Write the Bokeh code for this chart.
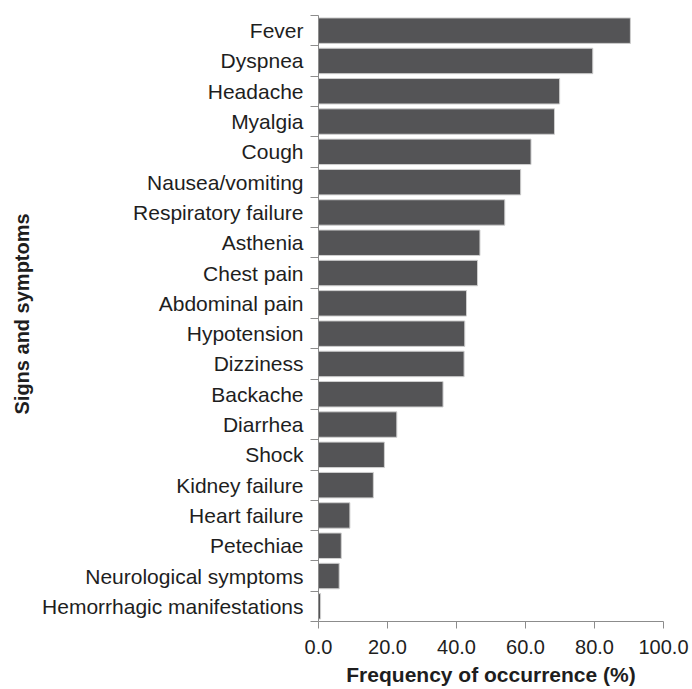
import math
from bokeh.plotting import figure
from bokeh.models import FixedTicker, PrintfTickFormatter, Title, ColumnDataSource, Range1d
from bokeh.embed import file_html
from bokeh.resources import INLINE

symptoms = ["Fever", "Dyspnea", "Headache", "Myalgia", "Cough", "Nausea/vomiting",
            "Respiratory failure", "Asthenia", "Chest pain", "Abdominal pain",
            "Hypotension", "Dizziness", "Backache", "Diarrhea", "Shock",
            "Kidney failure", "Heart failure", "Petechiae", "Neurological symptoms",
            "Hemorrhagic manifestations"]
frequency = [90.4, 79.5, 69.9, 68.4, 61.6, 58.6, 54.0, 46.8, 46.1, 42.9,
             42.4, 42.2, 36.1, 22.7, 19.1, 15.9, 9.1, 6.6, 6.0, 0.6]
x_ticks = [0, 20, 40, 60, 80, 100]
x_title = "Frequency of occurrence (%)"
y_title = "Signs and symptoms"

n = len(symptoms)
ypos = [n - i - 0.5 for i in range(n)]
src = ColumnDataSource(dict(y=ypos, v=frequency, name=symptoms))

FONT = "Liberation Sans"
AXIS_COLOR = "#8c8c8c"
TEXT_COLOR = "#1e1e1e"

p = figure(width=692, height=689, output_backend="svg", toolbar_location=None,
           x_range=Range1d(0, 100), y_range=Range1d(0, n),
           min_border_left=318, min_border_right=29, min_border_top=15,
           min_border_bottom=68)
p.outline_line_color = None
p.xgrid.visible = False
p.ygrid.visible = False

p.hbar(y="y", right="v", left=0, height=0.84, source=src,
       fill_color="#545456", line_color="#cfcfcf", line_width=1)

xa = p.xaxis[0]
xa.ticker = FixedTicker(ticks=x_ticks, minor_ticks=[])
xa.formatter = PrintfTickFormatter(format="%.1f")
xa.axis_line_color = AXIS_COLOR
xa.major_tick_line_color = AXIS_COLOR
xa.major_tick_out = 7
xa.major_tick_in = 0
xa.minor_tick_out = 0
xa.major_label_text_font = FONT
xa.major_label_text_font_size = "20px"
xa.major_label_text_color = TEXT_COLOR
xa.major_label_standoff = 11
xa.axis_label = x_title
xa.axis_label_text_font = FONT
xa.axis_label_text_font_size = "21px"
xa.axis_label_text_font_style = "bold"
xa.axis_label_text_color = TEXT_COLOR
xa.axis_label_standoff = 6

ya = p.yaxis[0]
ya.ticker = FixedTicker(ticks=ypos, minor_ticks=list(range(n + 1)))
ya.major_label_overrides = {y: s for y, s in zip(ypos, symptoms)}
ya.axis_line_color = AXIS_COLOR
ya.major_tick_out = 0
ya.major_tick_in = 0
ya.minor_tick_line_color = AXIS_COLOR
ya.minor_tick_out = 8
ya.minor_tick_in = 0
ya.major_label_text_font = FONT
ya.major_label_text_font_size = "21px"
ya.major_label_text_color = TEXT_COLOR
ya.major_label_standoff = 7

p.add_layout(Title(text=y_title, align="left", offset=207, standoff=13,
                   text_font=FONT, text_font_size="20px", text_font_style="bold",
                   text_color=TEXT_COLOR), "left")

open("out.html", "w").write(file_html(p, INLINE))
